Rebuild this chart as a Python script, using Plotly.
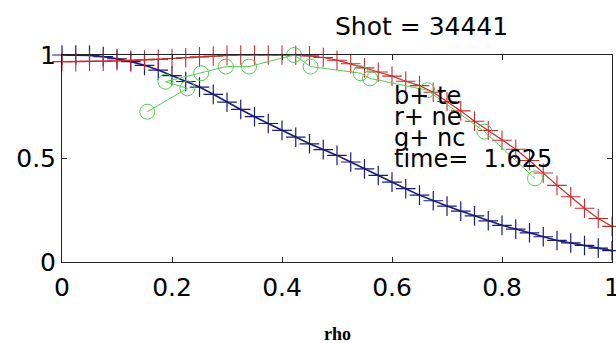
import plotly.graph_objects as go

# Normalised radial profiles
rho = [0.000, 0.025, 0.050, 0.075, 0.100, 0.125, 0.150, 0.175, 0.200, 0.225,
       0.250, 0.275, 0.300, 0.325, 0.350, 0.375, 0.400, 0.425, 0.450, 0.475,
       0.500, 0.525, 0.550, 0.575, 0.600, 0.625, 0.650, 0.675, 0.700, 0.725,
       0.750, 0.775, 0.800, 0.825, 0.850, 0.875, 0.900, 0.925, 0.950, 0.975,
       1.000]

te = [1.000, 1.000, 0.998, 0.992, 0.982, 0.968, 0.950, 0.927, 0.900, 0.872,
      0.845, 0.810, 0.772, 0.737, 0.702, 0.669, 0.636, 0.603, 0.571, 0.543,
      0.515, 0.483, 0.450, 0.418, 0.386, 0.354, 0.323, 0.296, 0.270, 0.246,
      0.223, 0.199, 0.177, 0.159, 0.141, 0.122, 0.104, 0.092, 0.080, 0.067,
      0.055]

ne = [0.968, 0.968, 0.969, 0.970, 0.972, 0.974, 0.976, 0.979, 0.983, 0.987,
      0.991, 0.995, 0.998, 1.000, 1.000, 1.000, 1.000, 0.999, 0.996, 0.988,
      0.975, 0.958, 0.938, 0.918, 0.898, 0.873, 0.852, 0.820, 0.775, 0.730,
      0.680, 0.635, 0.588, 0.545, 0.490, 0.430, 0.370, 0.315, 0.260, 0.210,
      0.172]

nc_rho = [0.155, 0.228, 0.188, 0.253, 0.298, 0.340, 0.422, 0.452, 0.543,
          0.560, 0.664, 0.768, 0.860]
nc = [0.726, 0.839, 0.871, 0.912, 0.944, 0.944, 1.000, 0.944, 0.912,
      0.887, 0.830, 0.630, 0.404]

x_ticks = [0, 0.2, 0.4, 0.6, 0.8, 1.0]
x_labels = ["0", "0.2", "0.4", "0.6", "0.8", "1"]
y_ticks = [0, 0.5, 1.0]
y_labels = ["0", "0.5", "1"]

info_lines = ["b+ te", "r+ ne", "g+ nc", "time=  1.625"]
info_y = [0.8, 0.7, 0.6, 0.5]
info_x = 0.6

BLUE = "#1a1a7a"
RED = "#cc2a2a"
GREEN = "#55cc55"
AXIS = "#222222"
FONT = "DejaVu Sans"

fig = go.Figure()

fig.add_trace(go.Scatter(
    x=rho, y=te, mode="lines+markers", cliponaxis=False,
    line=dict(color=BLUE, width=1.6),
    marker=dict(symbol="cross-thin", size=14, color=BLUE,
                line=dict(width=1.2, color=BLUE)),
))
fig.add_trace(go.Scatter(
    x=rho, y=ne, mode="lines+markers", cliponaxis=False,
    line=dict(color=RED, width=1.2),
    marker=dict(symbol="cross-thin", size=14, color=RED,
                line=dict(width=1.1, color=RED)),
))
fig.add_trace(go.Scatter(
    x=nc_rho, y=nc, mode="lines+markers", cliponaxis=False,
    line=dict(color=GREEN, width=1),
    marker=dict(symbol="circle-open", size=15, color=GREEN,
                line=dict(width=1, color=GREEN)),
))

for txt, yy in zip(info_lines, info_y):
    fig.add_annotation(x=info_x, y=yy, xref="x", yref="y", text=txt,
                       showarrow=False, xanchor="left", yanchor="middle",
                       font=dict(family=FONT, size=24, color="#000000"))

fig.add_annotation(x=0.6545, y=1.14, xref="paper", yref="paper",
                   text="Shot = 34441", showarrow=False,
                   xanchor="center", yanchor="middle",
                   font=dict(family=FONT, size=25, color="#000000"))

fig.add_annotation(x=0.5, y=-0.35, xref="paper", yref="paper",
                   text="<b>rho</b>", showarrow=False,
                   xanchor="center", yanchor="middle",
                   font=dict(family="Liberation Serif", size=18, color="#000000"))

fig.update_xaxes(range=[0, 1], tickvals=x_ticks, ticktext=x_labels,
                 ticks="inside", ticklen=5, tickcolor=AXIS, tickwidth=1,
                 showline=True, linecolor=AXIS, linewidth=1, mirror="ticks",
                 showgrid=False, zeroline=False, ticklabeloverflow="allow",
                 ticklabelstandoff=3, automargin=False,
                 tickfont=dict(family=FONT, size=25, color="#000000"))
fig.update_yaxes(range=[0, 1], tickvals=y_ticks, ticktext=y_labels,
                 ticks="inside", ticklen=5, tickcolor=AXIS, tickwidth=1,
                 showline=True, linecolor=AXIS, linewidth=1, mirror="ticks",
                 showgrid=False, zeroline=False, ticklabeloverflow="allow",
                 automargin=False,
                 tickfont=dict(family=FONT, size=25, color="#000000"))

fig.update_layout(
    width=616, height=343,
    margin=dict(l=62, r=4, t=55, b=81),
    paper_bgcolor="white", plot_bgcolor="white",
    showlegend=False,
)

fig.write_html("out.html")
